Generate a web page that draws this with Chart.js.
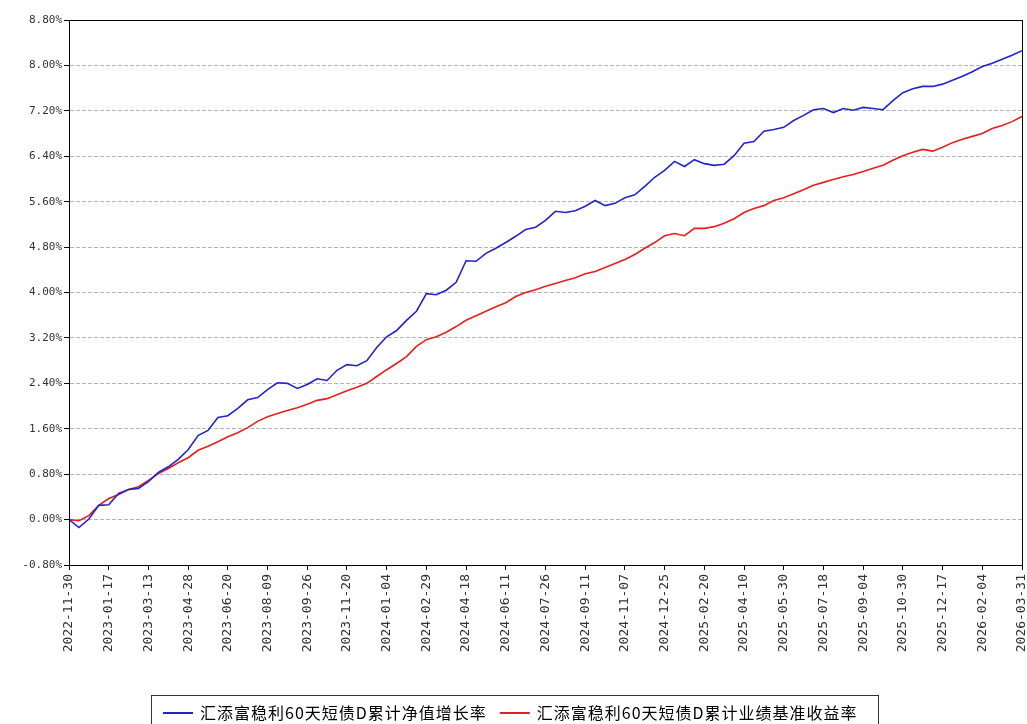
<!DOCTYPE html>
<html>
<head>
<meta charset="utf-8">
<script src="https://cdn.jsdelivr.net/npm/chart.js@4/dist/chart.umd.min.js"></script>
<style>
  html, body { margin: 0; padding: 0; background: #fff; }
</style>
</head>
<body>
<canvas id="myChart" width="1027" height="724"></canvas>
<script>
// 横轴日期标签（每4个数据点一个）
var dateLabels = ['2022-11-30', '2023-01-17', '2023-03-13', '2023-04-28', '2023-06-20',
    '2023-08-09', '2023-09-26', '2023-11-20', '2024-01-04', '2024-02-29', '2024-04-18',
    '2024-06-11', '2024-07-26', '2024-09-11', '2024-11-07', '2024-12-25', '2025-02-20',
    '2025-04-10', '2025-05-30', '2025-07-18', '2025-09-04', '2025-10-30', '2025-12-17',
    '2026-02-04', '2026-03-31'];
var seriesNames = ['汇添富稳利60天短债D累计净值增长率', '汇添富稳利60天短债D累计业绩基准收益率'];
// 累计净值增长率 (%)
var navGrowth = [0.00, -0.14, 0.01, 0.25, 0.26, 0.46, 0.53, 0.55, 0.67, 0.83,
    0.93, 1.06, 1.23, 1.48, 1.57, 1.80, 1.83, 1.96, 2.11, 2.15,
    2.29, 2.41, 2.40, 2.31, 2.38, 2.48, 2.45, 2.63, 2.73, 2.71,
    2.80, 3.03, 3.22, 3.33, 3.51, 3.67, 3.98, 3.96, 4.04, 4.18,
    4.56, 4.55, 4.69, 4.78, 4.88, 4.99, 5.11, 5.15, 5.27, 5.43,
    5.41, 5.44, 5.52, 5.62, 5.53, 5.57, 5.67, 5.72, 5.87, 6.03,
    6.15, 6.31, 6.22, 6.34, 6.27, 6.24, 6.26, 6.41, 6.63, 6.66,
    6.84, 6.87, 6.91, 7.03, 7.12, 7.22, 7.24, 7.17, 7.24, 7.21,
    7.26, 7.24, 7.22, 7.38, 7.52, 7.59, 7.63, 7.63, 7.67, 7.74,
    7.81, 7.89, 7.98, 8.04, 8.11, 8.18, 8.26];
// 累计业绩基准收益率 (%)
var benchGrowth = [0.00, -0.02, 0.07, 0.25, 0.37, 0.44, 0.53, 0.58, 0.69, 0.81,
    0.90, 1.00, 1.09, 1.22, 1.29, 1.37, 1.46, 1.53, 1.62, 1.73,
    1.81, 1.87, 1.92, 1.97, 2.03, 2.10, 2.13, 2.20, 2.27, 2.33,
    2.40, 2.52, 2.64, 2.75, 2.87, 3.05, 3.17, 3.22, 3.30, 3.40,
    3.51, 3.59, 3.67, 3.75, 3.82, 3.93, 4.00, 4.05, 4.11, 4.16,
    4.21, 4.26, 4.33, 4.37, 4.44, 4.51, 4.58, 4.67, 4.78, 4.88,
    5.00, 5.04, 5.00, 5.13, 5.13, 5.16, 5.22, 5.30, 5.41, 5.48,
    5.53, 5.62, 5.67, 5.74, 5.81, 5.89, 5.94, 5.99, 6.04, 6.08,
    6.13, 6.19, 6.24, 6.33, 6.41, 6.47, 6.52, 6.49, 6.56, 6.64,
    6.70, 6.75, 6.80, 6.89, 6.94, 7.01, 7.10];
var yMin = -0.8, yMax = 8.8, yStep = 0.8;
var pointsPerLabel = 4;

function toXY(arr) {
    return arr.map(function (v, i) { return { x: i, y: v }; });
}

// 画外框 + 底部图例
var framePlugin = {
    id: 'frameLegend',
    afterDraw: function (chart) {
        var ctx = chart.ctx;
        var a = chart.chartArea;
        ctx.save();
        ctx.strokeStyle = '#000';
        ctx.lineWidth = 1;
        ctx.strokeRect(a.left + 0.5, a.top + 0.5, a.right - a.left, a.bottom - a.top);

        // 图例
        var boxL = 151, boxT = 695, boxW = 727, boxH = 40;
        ctx.strokeStyle = '#333';
        ctx.strokeRect(boxL + 0.5, boxT + 0.5, boxW, boxH);
        ctx.font = '16px "Noto Sans CJK SC"';
        ctx.letterSpacing = '1px';
        ctx.textBaseline = 'middle';
        ctx.fillStyle = '#000';
        var x = 163, y = 713;
        chart.data.datasets.forEach(function (ds) {
            ctx.strokeStyle = ds.borderColor;
            ctx.lineWidth = 2;
            ctx.beginPath();
            ctx.moveTo(x, y);
            ctx.lineTo(x + 30, y);
            ctx.stroke();
            ctx.fillText(ds.label, x + 37, y);
            x += 37 + ctx.measureText(ds.label).width + 13;
        });
        ctx.restore();
    }
};

var ctx = document.getElementById('myChart').getContext('2d');
var myChart = new Chart(ctx, {
    type: 'line',
    data: {
        datasets: [{
            label: seriesNames[0],
            data: toXY(navGrowth),
            borderColor: 'rgb(35, 35, 205)',
            borderWidth: 1.6,
            pointRadius: 0,
            tension: 0
        }, {
            label: seriesNames[1],
            data: toXY(benchGrowth),
            borderColor: 'rgb(230, 30, 30)',
            borderWidth: 1.6,
            pointRadius: 0,
            tension: 0
        }]
    },
    options: {
        responsive: false,
        animation: false,
        layout: {
            padding: { top: 20, right: 5, left: 0, bottom: 29 }
        },
        plugins: {
            legend: { display: false },
            tooltip: { enabled: false }
        },
        scales: {
            x: {
                type: 'linear',
                min: 0,
                max: (dateLabels.length - 1) * pointsPerLabel,
                afterFit: function (scale) {
                    scale.height = 130;
                    scale.paddingLeft = 0;
                    scale.paddingRight = 0;
                },
                border: { display: true, color: '#000', width: 1 },
                grid: { drawOnChartArea: false, drawTicks: true, tickLength: 5, tickColor: '#000' },
                ticks: {
                    stepSize: pointsPerLabel,
                    autoSkip: false,
                    maxRotation: 90,
                    minRotation: 90,
                    padding: 4,
                    color: '#333',
                    font: { family: '"DejaVu Sans Mono", monospace', size: 13 },
                    callback: function (v) { return dateLabels[v / pointsPerLabel]; }
                }
            },
            y: {
                min: yMin,
                max: yMax,
                afterFit: function (scale) { scale.width = 69; },
                border: { display: true, color: '#000', width: 1, dash: [4, 2] },
                grid: { color: '#b4b4b4', tickLength: 5, tickColor: '#000', tickBorderDash: [] },
                ticks: {
                    stepSize: yStep,
                    padding: 2,
                    color: '#333',
                    font: { family: '"DejaVu Sans Mono", monospace', size: 11 },
                    callback: function (v) { return v.toFixed(2) + '%'; }
                }
            }
        }
    },
    plugins: [framePlugin]
});
</script>
</body>
</html>
